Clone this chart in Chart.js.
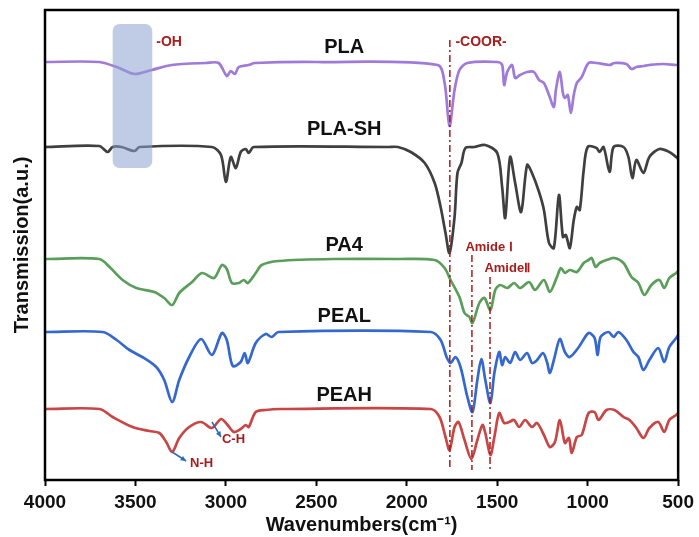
<!DOCTYPE html>
<html>
<head>
<meta charset="utf-8">
<script src="https://cdn.jsdelivr.net/npm/chart.js@4/dist/chart.umd.min.js"></script>
<style>
  html, body { margin: 0; padding: 0; background: #fff; }
  #ftir { display: block; }
</style>
</head>
<body>
<canvas id="ftir" width="699" height="537"></canvas>
<script>
// FTIR spectra, stacked (transmission in arbitrary units)
const seriesNames = ['PLA', 'PLA-SH', 'PA4', 'PEAL', 'PEAH'];
const seriesColors = ['#a07ad8', '#3f3f3f', '#5b9e5b', '#3468cf', '#c84646'];

const plaWn = [4000, 3700, 3590, 3505, 3410, 3300, 3110, 3040, 2995, 2973, 2950, 2929, 2875, 2840, 2500, 1830, 1791, 1764, 1736, 1709, 1665, 1500, 1473, 1462, 1445, 1418, 1401, 1374, 1335, 1297, 1269, 1242, 1214, 1187, 1176, 1154, 1137, 1126, 1110, 1093, 1077, 1060, 1033, 995, 951, 879, 852, 786, 758, 731, 692, 659, 582, 511, 500];
const plaT  = [418, 418, 412, 406, 410, 415, 417, 417, 404, 409, 406, 413, 415, 417, 418, 415, 397, 354, 390, 410, 417, 418, 415, 395, 408, 415, 402, 405, 408, 408, 400, 397, 385, 373, 390, 408, 387, 382, 385, 367, 385, 397, 403, 417, 417, 415, 417, 416, 411, 413, 414, 415, 416, 415, 415];

const plaShWn = [4000, 3700, 3654, 3626, 3577, 3505, 3478, 3077, 3027, 3000, 2973, 2945, 2918, 2890, 2874, 2846, 2100, 2049, 1978, 1901, 1846, 1813, 1786, 1764, 1736, 1720, 1698, 1676, 1626, 1566, 1500, 1473, 1456, 1429, 1401, 1368, 1335, 1308, 1269, 1242, 1214, 1187, 1159, 1137, 1121, 1099, 1077, 1060, 1044, 1022, 1000, 951, 934, 912, 879, 857, 802, 775, 753, 731, 692, 659, 604, 549, 511, 500];
const plaShT  = [333, 334, 328, 333, 333, 329, 333, 333, 325, 298, 323, 312, 328, 331, 327, 333, 333, 333, 328, 317, 297, 273, 247, 227, 263, 307, 317, 332, 333, 335, 327, 293, 262, 323, 297, 268, 315, 307, 288, 270, 237, 232, 285, 243, 245, 232, 260, 273, 270, 310, 333, 332, 328, 333, 308, 333, 333, 323, 302, 320, 307, 323, 331, 328, 323, 321];

const pa4Wn = [4000, 3700, 3643, 3571, 3495, 3396, 3341, 3297, 3258, 3187, 3132, 3066, 3022, 2995, 2967, 2929, 2901, 2879, 2835, 2802, 2709, 2400, 2049, 1846, 1791, 1758, 1709, 1681, 1654, 1637, 1599, 1571, 1538, 1511, 1484, 1445, 1407, 1374, 1324, 1291, 1242, 1209, 1170, 1148, 1126, 1099, 1060, 1022, 995, 978, 956, 934, 896, 852, 802, 758, 720, 687, 648, 604, 577, 549, 511, 500];
const pa4T  = [221, 221, 213, 200, 192, 188, 182, 175, 187, 198, 207, 202, 215, 211, 197, 197, 200, 197, 207, 215, 219, 221, 221, 220, 212, 200, 183, 167, 163, 157, 177, 182, 170, 190, 195, 192, 197, 192, 198, 190, 200, 188, 203, 212, 207, 210, 208, 217, 220, 222, 213, 217, 220, 222, 217, 203, 197, 185, 195, 200, 192, 202, 207, 209];

const pealWn = [4000, 3681, 3604, 3533, 3462, 3385, 3341, 3297, 3258, 3203, 3137, 3077, 3022, 2995, 2962, 2918, 2896, 2879, 2835, 2780, 2747, 2709, 1868, 1813, 1780, 1758, 1731, 1703, 1665, 1637, 1610, 1588, 1566, 1538, 1516, 1489, 1473, 1456, 1429, 1401, 1374, 1335, 1308, 1280, 1247, 1225, 1209, 1187, 1154, 1126, 1099, 1049, 995, 962, 945, 929, 885, 857, 830, 786, 747, 720, 692, 659, 610, 577, 549, 511, 500];
const pealT  = [148, 148, 140, 130, 123, 113, 100, 78, 100, 123, 141, 125, 147, 140, 114, 118, 127, 117, 137, 146, 143, 148, 148, 140, 123, 117, 123, 113, 83, 68, 100, 121, 100, 77, 107, 128, 115, 123, 117, 128, 120, 127, 117, 120, 127, 118, 107, 120, 141, 128, 123, 133, 147, 142, 125, 143, 148, 143, 148, 140, 128, 123, 110, 120, 132, 118, 133, 142, 145];

const peahWn = [4000, 3698, 3626, 3516, 3423, 3368, 3330, 3297, 3258, 3203, 3137, 3077, 3027, 2995, 2956, 2918, 2890, 2874, 2835, 2780, 2700, 1868, 1819, 1786, 1764, 1736, 1714, 1681, 1643, 1610, 1582, 1566, 1538, 1516, 1489, 1462, 1434, 1407, 1379, 1346, 1308, 1280, 1242, 1209, 1181, 1154, 1126, 1104, 1088, 1060, 1033, 995, 962, 940, 896, 852, 802, 769, 731, 692, 659, 610, 577, 549, 511, 500];
const peahT  = [71, 71, 63, 53, 49, 47, 38, 28, 42, 53, 58, 52, 61, 56, 48, 51, 55, 53, 68, 70, 71, 71, 63, 43, 30, 53, 58, 40, 21, 40, 55, 47, 25, 43, 67, 57, 58, 60, 53, 60, 53, 57, 45, 33, 38, 60, 37, 42, 27, 43, 45, 67, 68, 60, 70, 70, 63, 60, 52, 42, 52, 58, 48, 60, 65, 67];

const xTicks = [4000, 3500, 3000, 2500, 2000, 1500, 1000, 500];

const wnLists = [plaWn, plaShWn, pa4Wn, pealWn, peahWn];
const tLists = [plaT, plaShT, pa4T, pealT, peahT];

const FONT = '"Liberation Sans", Arial, sans-serif';
const DARK_RED = '#a81c1c';

// annotations drawn on top of the spectra
const annotations = {
    id: 'annotations',
    afterDatasetsDraw(chart) {
        const { ctx, chartArea: area, scales: { x, y } } = chart;
        ctx.save();

        // shaded -OH band
        const rx0 = x.getPixelForValue(3626), rx1 = x.getPixelForValue(3407);
        const ry0 = y.getPixelForValue(456), ry1 = y.getPixelForValue(312);
        ctx.fillStyle = 'rgba(140, 160, 210, 0.55)';
        ctx.beginPath();
        ctx.roundRect(rx0, ry0, rx1 - rx0, ry1 - ry0, 7);
        ctx.fill();

        // dash-dot marker lines
        ctx.strokeStyle = DARK_RED;
        ctx.lineWidth = 1.5;
        ctx.setLineDash([7, 3, 2, 3]);
        [[1762, 440], [1640, 225], [1540, 203]].forEach(([wn, top]) => {
            const px = x.getPixelForValue(wn);
            ctx.beginPath();
            ctx.moveTo(px, y.getPixelForValue(top));
            ctx.lineTo(px, y.getPixelForValue(10));
            ctx.stroke();
        });
        ctx.setLineDash([]);

        // peak labels
        ctx.fillStyle = DARK_RED;
        ctx.textBaseline = 'middle';
        ctx.textAlign = 'left';
        ctx.font = 'bold 14px ' + FONT;
        ctx.fillText('-OH', x.getPixelForValue(3385), y.getPixelForValue(438));
        ctx.fillText('-COOR-', x.getPixelForValue(1731), y.getPixelForValue(438));
        ctx.font = 'bold 13px ' + FONT;
        ctx.fillText('Amide \u2160', x.getPixelForValue(1676), y.getPixelForValue(233));
        ctx.fillText('Amide\u2161', x.getPixelForValue(1571), y.getPixelForValue(212));
        ctx.fillText('C-H', x.getPixelForValue(3022), y.getPixelForValue(41));
        ctx.fillText('N-H', x.getPixelForValue(3198), y.getPixelForValue(17));

        // arrows
        ctx.strokeStyle = '#2f6cb5';
        ctx.fillStyle = '#2f6cb5';
        ctx.lineWidth = 1.5;
        [[3077, 58, 3027, 43], [3297, 28, 3220, 19]].forEach(([w0, v0, w1, v1]) => {
            const x0 = x.getPixelForValue(w0), y0 = y.getPixelForValue(v0);
            const x1 = x.getPixelForValue(w1), y1 = y.getPixelForValue(v1);
            const ang = Math.atan2(y1 - y0, x1 - x0);
            ctx.beginPath();
            ctx.moveTo(x0, y0);
            ctx.lineTo(x1, y1);
            ctx.stroke();
            ctx.beginPath();
            ctx.moveTo(x1, y1);
            ctx.lineTo(x1 - 6 * Math.cos(ang - 0.45), y1 - 6 * Math.sin(ang - 0.45));
            ctx.lineTo(x1 - 6 * Math.cos(ang + 0.45), y1 - 6 * Math.sin(ang + 0.45));
            ctx.closePath();
            ctx.fill();
        });

        // series names
        ctx.fillStyle = '#111';
        ctx.textAlign = 'center';
        ctx.font = 'bold 20px ' + FONT;
        const nameY = [433, 351, 235, 164, 85];
        seriesNames.forEach((name, i) => {
            ctx.fillText(name, x.getPixelForValue(2346), y.getPixelForValue(nameY[i]));
        });

        // frame
        ctx.strokeStyle = '#000';
        ctx.lineWidth = 2.5;
        ctx.strokeRect(area.left, area.top, area.right - area.left, area.bottom - area.top);
        ctx.restore();
    }
};

new Chart(document.getElementById('ftir'), {
    type: 'line',
    data: {
        datasets: seriesNames.map((name, i) => ({
            label: name,
            data: wnLists[i].map((wn, j) => ({ x: wn, y: tLists[i][j] })),
            borderColor: seriesColors[i],
            borderWidth: 2.7,
            pointRadius: 0,
            fill: false,
            tension: 0.3
        }))
    },
    options: {
        responsive: false,
        animation: false,
        devicePixelRatio: 1,
        layout: { padding: { top: 10, right: 17, left: 0, bottom: 0 } },
        plugins: {
            legend: { display: false },
            tooltip: { enabled: false }
        },
        scales: {
            x: {
                type: 'linear',
                reverse: true,
                min: 500,
                max: 4000,
                afterBuildTicks: (scale) => { scale.ticks = xTicks.map(v => ({ value: v })); },
                afterFit: (scale) => { scale.height = 57; },
                border: { display: false },
                grid: {
                    drawOnChartArea: false,
                    drawTicks: true,
                    tickLength: 6,
                    tickWidth: 2,
                    tickColor: '#000'
                },
                ticks: {
                    padding: 5,
                    color: '#111',
                    maxRotation: 0,
                    callback: (v) => String(v),
                    font: { family: FONT, size: 19, weight: 'bold' }
                },
                title: {
                    display: true,
                    text: 'Wavenumbers(cm\u207B\u00B9)',
                    color: '#111',
                    padding: { top: 0, bottom: 0 },
                    font: { family: FONT, size: 20, weight: 'bold', lineHeight: 1.2 }
                }
            },
            y: {
                min: 0,
                max: 470,
                afterFit: (scale) => { scale.width = 45; },
                border: { display: false },
                grid: { display: false },
                ticks: { display: false },
                title: {
                    display: true,
                    text: 'Transmission(a.u.)',
                    color: '#111',
                    padding: { top: 10, bottom: 0 },
                    font: { family: FONT, size: 20, weight: 'bold', lineHeight: 1.2 }
                }
            }
        }
    },
    plugins: [annotations]
});
</script>
</body>
</html>
